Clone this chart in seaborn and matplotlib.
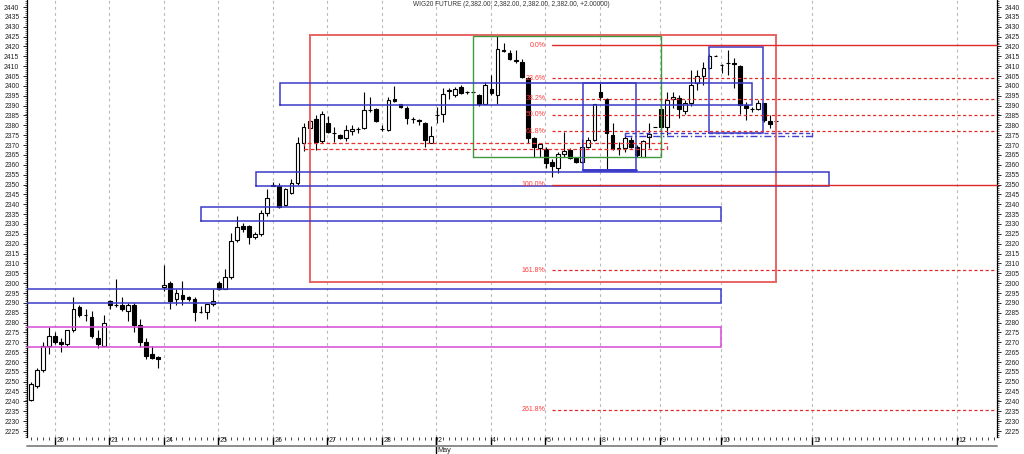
import numpy as np
import matplotlib
matplotlib.use("Agg")
import matplotlib.pyplot as plt
from matplotlib.ticker import MultipleLocator, FixedLocator
import seaborn as sns

# ---------------- data (hourly bars, index 0 = first bar) ----------------
opens = [2241, 2248, 2256, 2268, 2273, 2270, 2269, 2276, 2288, 2284,
         2283, 2272, 2268, 2291, 2289, 2289, 2286, 2289, 2279, 2270,
         2264, 2262.5, 2298, 2300, 2292, 2294, 2293, 2292, 2285.5, 2285.5,
         2289.3, 2300, 2297, 2303, 2322, 2329, 2329, 2323.2, 2325, 2335.4,
         2350, 2349.5, 2339.6, 2345.6, 2350.7, 2371, 2378.6, 2383, 2372, 2381,
         2376, 2375, 2373.4, 2377, 2378, 2378.5, 2388, 2388.5, 2378, 2377.6,
         2393.5, 2390.6, 2388.6, 2383.3, 2382.5, 2381, 2371.2, 2385, 2386, 2397.5,
         2395.3, 2399.2, 2396.9, 2396.9, 2395.3, 2391, 2398.2, 2395.3, 2418, 2416.5,
         2413, 2412.2, 2404, 2373.4, 2368.3, 2368, 2361.4, 2358.2, 2365.4, 2367.5,
         2363.3, 2361.6, 2369.2, 2372.6, 2397.1, 2393.2, 2375, 2367.8, 2368.3, 2372.6,
         2369.2, 2364.2, 2374, 2379, 2388.3, 2379.3, 2393.2, 2394, 2387.3, 2391.2,
         2401.3, 2405.2, 2409.2, 2415.3, 2410.6, 2411.4, 2411.4, 2410, 2390.3, 2388.3,
         2388.3, 2391.2, 2382.2, 2382]
highs = [2250, 2257, 2270, 2278, 2275, 2272, 2276, 2293, 2289, 2287,
         2286, 2276, 2284, 2291.5, 2302, 2293, 2290, 2290, 2282, 2272,
         2268, 2263, 2309, 2301, 2297, 2301, 2293.5, 2293, 2288.5, 2289.5,
         2297, 2301, 2307, 2325.5, 2334, 2330.7, 2329.5, 2326, 2337, 2347.6,
         2351.5, 2350.6, 2348, 2352.9, 2374, 2381, 2383, 2385, 2387.5, 2384.5,
         2379.3, 2375.5, 2380, 2380, 2379.3, 2397, 2394.5, 2389, 2380, 2394.5,
         2400, 2391, 2390, 2384, 2383, 2381.5, 2379.8, 2389.4, 2399, 2398.7,
         2399.5, 2400.4, 2397.5, 2397.2, 2396, 2402, 2405.5, 2425.8, 2421.5, 2418,
         2418, 2413.4, 2404.6, 2374, 2371, 2369, 2363, 2366.6, 2376.8, 2368.3,
         2364, 2373, 2374.3, 2391, 2401.3, 2393.7, 2381, 2371.7, 2376, 2374.3,
         2370, 2372.6, 2381, 2379, 2389.5, 2397, 2397, 2395.4, 2392.8, 2408,
         2408, 2412.3, 2416, 2415.5, 2411, 2418.2, 2414, 2410.5, 2392, 2389.5,
         2392.8, 2391.5, 2385.2, 2382]
lows = [2240, 2247, 2255, 2264, 2269, 2265, 2268, 2275, 2283, 2281,
        2272, 2267, 2268, 2287, 2288, 2286, 2281, 2275, 2267.5, 2261.5,
        2261.5, 2257, 2296, 2287, 2289, 2289, 2291, 2281, 2285, 2282,
        2288.5, 2296.5, 2297, 2302, 2321, 2326, 2319.7, 2322.2, 2324, 2334,
        2349, 2338, 2339, 2345, 2350, 2367, 2378, 2367.6, 2371, 2376,
        2371.7, 2373, 2372, 2375, 2376, 2378, 2387, 2381.5, 2377, 2377,
        2392, 2388.6, 2380.5, 2381, 2380, 2369, 2371, 2381.3, 2381.8, 2393.6,
        2394.5, 2395.8, 2396, 2396.5, 2390, 2390.6, 2395.5, 2391, 2417, 2413,
        2411.4, 2404, 2371, 2364, 2364, 2358.2, 2354, 2355.7, 2364, 2362.8,
        2360.8, 2361, 2368.3, 2372, 2393, 2357.7, 2367.5, 2365, 2366.6, 2368.3,
        2364.2, 2364, 2368.3, 2379, 2376, 2375, 2388.6, 2383.5, 2386, 2390,
        2397.9, 2400.4, 2408.5, 2415, 2406.4, 2405.5, 2398.8, 2386, 2382.7, 2387,
        2387.8, 2381.5, 2378.8, 2382]
closes = [2249, 2256, 2268, 2273, 2270, 2269, 2276, 2287, 2284, 2284,
          2273, 2269, 2280, 2289, 2289, 2287, 2289, 2279, 2270, 2263,
          2262, 2261.5, 2299, 2291, 2295, 2292, 2292, 2285.5, 2285.5, 2289.3,
          2291, 2297, 2303, 2321.6, 2328.5, 2327.6, 2323.6, 2325, 2335.4, 2343.3,
          2349.5, 2338.8, 2347.6, 2350.7, 2371, 2379, 2382, 2371.5, 2386, 2376.5,
          2376, 2373.4, 2377.5, 2378, 2378.3, 2388, 2388, 2382, 2378, 2392.8,
          2392.5, 2389.5, 2383.5, 2383, 2382, 2372.5, 2374.6, 2385.5, 2396, 2398,
          2398.2, 2396.2, 2396.9, 2396.9, 2390.8, 2400.4, 2396.2, 2418.5, 2417.5, 2413.4,
          2412.8, 2404.6, 2373.4, 2369.2, 2370.5, 2361, 2359.4, 2365.4, 2367.1, 2363.3,
          2361.2, 2369.2, 2372.6, 2390.8, 2394.6, 2376, 2367.8, 2368.3, 2373.4, 2369.2,
          2365, 2372.2, 2375.4, 2379, 2379.3, 2392.8, 2394.5, 2388.3, 2391.2, 2400.4,
          2405.2, 2409.2, 2415.3, 2415.3, 2410.6, 2411.4, 2411, 2390.3, 2388.6, 2388.3,
          2391.2, 2382.7, 2380.5, 2382]

day_labels = ["20", "21", "24", "25", "26", "27", "28", "2", "4", "5", "8", "9", "10", "11", "12"]
day_positions = [4, 13, 22, 31, 40, 49, 58, 67, 76, 85, 94, 104, 114, 129, 153]
month_label = "May"
month_position = 67

title_text = "WIG20 FUTURE (2,382.00, 2,382.00, 2,382.00, 2,382.00, +2.00000)"

fib_high = 2420.5
fib_low = 2350.0
fib_ratios = [0.0, 0.236, 0.382, 0.5, 0.618, 1.0, 1.618, 2.618]
fib_labels = ["0.0%", "23.6%", "38.2%", "50.0%", "61.8%", "100.0%", "161.8%", "261.8%"]
fib_start = 86

# rectangles: (x0, x1, y_low, y_high) in bar index / price
red_box = (46.05, 123.0, 2300.5, 2425.8)
green_box = (73.0, 104.0, 2364.0, 2425.4)
blue_boxes = [(41.1, 119.0, 2390.2, 2401.3),
              (91.07, 99.9, 2357.2, 2401.3),
              (112.0, 120.9, 2376.3, 2419.6),
              (37.1, 131.8, 2349.4, 2356.5),
              (28.06, 113.95, 2331.5, 2338.8),
              (-5.0, 113.95, 2289.8, 2297.2)]
magenta_box = (-5.0, 113.95, 2267.8, 2277.9)
red_dash_box = (45.0, 105.0, 2367.8, 2371.3)
blue_dash_box = (98.05, 128.9, 2374.4, 2376.3)

# ---------------- style ----------------
sns.set_theme(style="white")
plt.rcParams["font.family"] = ["Liberation Sans", "DejaVu Sans"]

W, H = 1024, 454
fig = plt.figure(figsize=(W / 100, H / 100), dpi=100)
ax_left, ax_right, ax_top, ax_bottom = 27, 997, 0, 437
ax = fig.add_axes([ax_left / W, (H - ax_bottom) / H, (ax_right - ax_left) / W, (ax_bottom - ax_top) / H])
ax.set_facecolor("white")

xmin, xmax = -0.66, 159.46
ymin, ymax = 2222.0, 2443.55
ax.set_xlim(xmin, xmax)
ax.set_ylim(ymin, ymax)

o = np.array(opens); h = np.array(highs); l = np.array(lows); c = np.array(closes)
idx = np.arange(len(o))
up = c >= o
bot = np.minimum(o, c)
hgt = np.abs(c - o)

# vertical day gridlines
for p in day_positions:
    ax.axvline(p - 0.1, color="#b8b8b8", lw=0.8, ls=(0, (2.5, 3)), zorder=1)

# candles
ax.vlines(idx, l, h, color="black", lw=0.8, zorder=2)
ax.bar(idx[up], hgt[up], bottom=bot[up], width=0.62, color="white",
       edgecolor="black", linewidth=0.8, zorder=3)
ax.bar(idx[~up], hgt[~up], bottom=bot[~up], width=0.62, color="black",
       edgecolor="black", linewidth=0.8, zorder=3)


def rect(box, color, lw=1.0, ls="-", z=4):
    x0, x1, y0, y1 = box
    ax.plot([x0, x1, x1, x0, x0], [y0, y0, y1, y1, y0], color=color, lw=lw, ls=ls,
            zorder=z, solid_joinstyle="miter")


rect(red_box, "#e86464", lw=1.4)
rect(green_box, "#3f9a3f", lw=1.0)
for b in blue_boxes:
    rect(b, "#3a3ac8", lw=1.1)
# heavier bottom of the day-8 box
bb = blue_boxes[1]
ax.plot([bb[0], bb[1]], [bb[2], bb[2]], color="#3a3ac8", lw=2.0, zorder=4)
rect(magenta_box, "#d64ad6", lw=1.1)
rect(red_dash_box, "#e83030", lw=0.9, ls=(0, (3, 2)))

# blue dashed / dash-dot pair
x0, x1, y0, y1 = blue_dash_box
ax.plot([x0, x1], [y1, y1], color="#4040d0", lw=1.0, ls=(0, (3, 2)), zorder=4)
ax.plot([x0, x1], [y0, y0], color="#4040d0", lw=1.0, ls=(0, (5, 2, 1, 2)), zorder=4)
ax.plot([x0, x0], [y0, y1], color="#4040d0", lw=1.0, zorder=4)
ax.plot([x1, x1], [y0, y1], color="#4040d0", lw=1.0, zorder=4)

# Fibonacci levels
for r, lab in zip(fib_ratios, fib_labels):
    y = fib_high - r * (fib_high - fib_low)
    if r in (0.0, 1.0):
        ax.plot([fib_start, xmax], [y, y], color="#e02828", lw=1.0, zorder=4, clip_on=False)
    else:
        ax.plot([fib_start, xmax], [y, y], color="#e02828", lw=0.9, ls=(0, (2.5, 2)), zorder=4)
    ax.text(fib_start - 1.1, y, lab, color="#ff3a3a", fontsize=5.0, ha="right", va="center", zorder=5)

# ---------------- axes / ticks ----------------
for s in ["top", "bottom"]:
    ax.spines[s].set_visible(False)
for s in ["left", "right"]:
    ax.spines[s].set_visible(True)
    ax.spines[s].set_color("black")
    ax.spines[s].set_linewidth(0.9)

ax.yaxis.set_major_locator(MultipleLocator(5))
ax.yaxis.set_minor_locator(MultipleLocator(1))
ax.yaxis.set_ticks_position("both")
ax.tick_params(axis="y", which="major", direction="out", length=3, width=0.7, pad=2.5,
               labelsize=4.9, labelleft=True, labelright=True, colors="#222222", left=True, right=True)
ax.tick_params(axis="y", which="minor", direction="out", length=1.5, width=0.5, left=True, right=True)

ax.xaxis.set_major_locator(FixedLocator([p - 0.1 for p in day_positions]))
ax.xaxis.set_minor_locator(MultipleLocator(1))
ax.set_xticklabels([])
ax.tick_params(axis="x", which="major", direction="out", length=6.5, width=1.0, bottom=True, colors="black")
ax.tick_params(axis="x", which="minor", direction="out", length=2.0, width=0.6, bottom=True)
ax.grid(False)

trans = ax.get_xaxis_transform()
for p, lab in zip(day_positions, day_labels):
    ax.text(p + 0.15, -4 / 437, lab, transform=trans, fontsize=5.0, ha="left", va="center",
            color="#222222", clip_on=False)
ax.text(month_position + 0.15, -13 / 437, month_label, transform=trans, fontsize=5.2,
        ha="left", va="center", color="#222222", clip_on=False)
ax.plot([month_position - 0.1] * 2, [0, -16 / 437], transform=trans, color="black", lw=1.0, clip_on=False)
# gray base line under the date axis
ax.plot([xmin, xmax], [-9 / 437, -9 / 437], transform=trans, color="#8c8c8c", lw=1.4, clip_on=False)

fig.text(511 / W, 1 - 5 / H, title_text, fontsize=4.7, ha="center", va="center", color="#333333")

fig.savefig("out.png", dpi=100, facecolor="white")
